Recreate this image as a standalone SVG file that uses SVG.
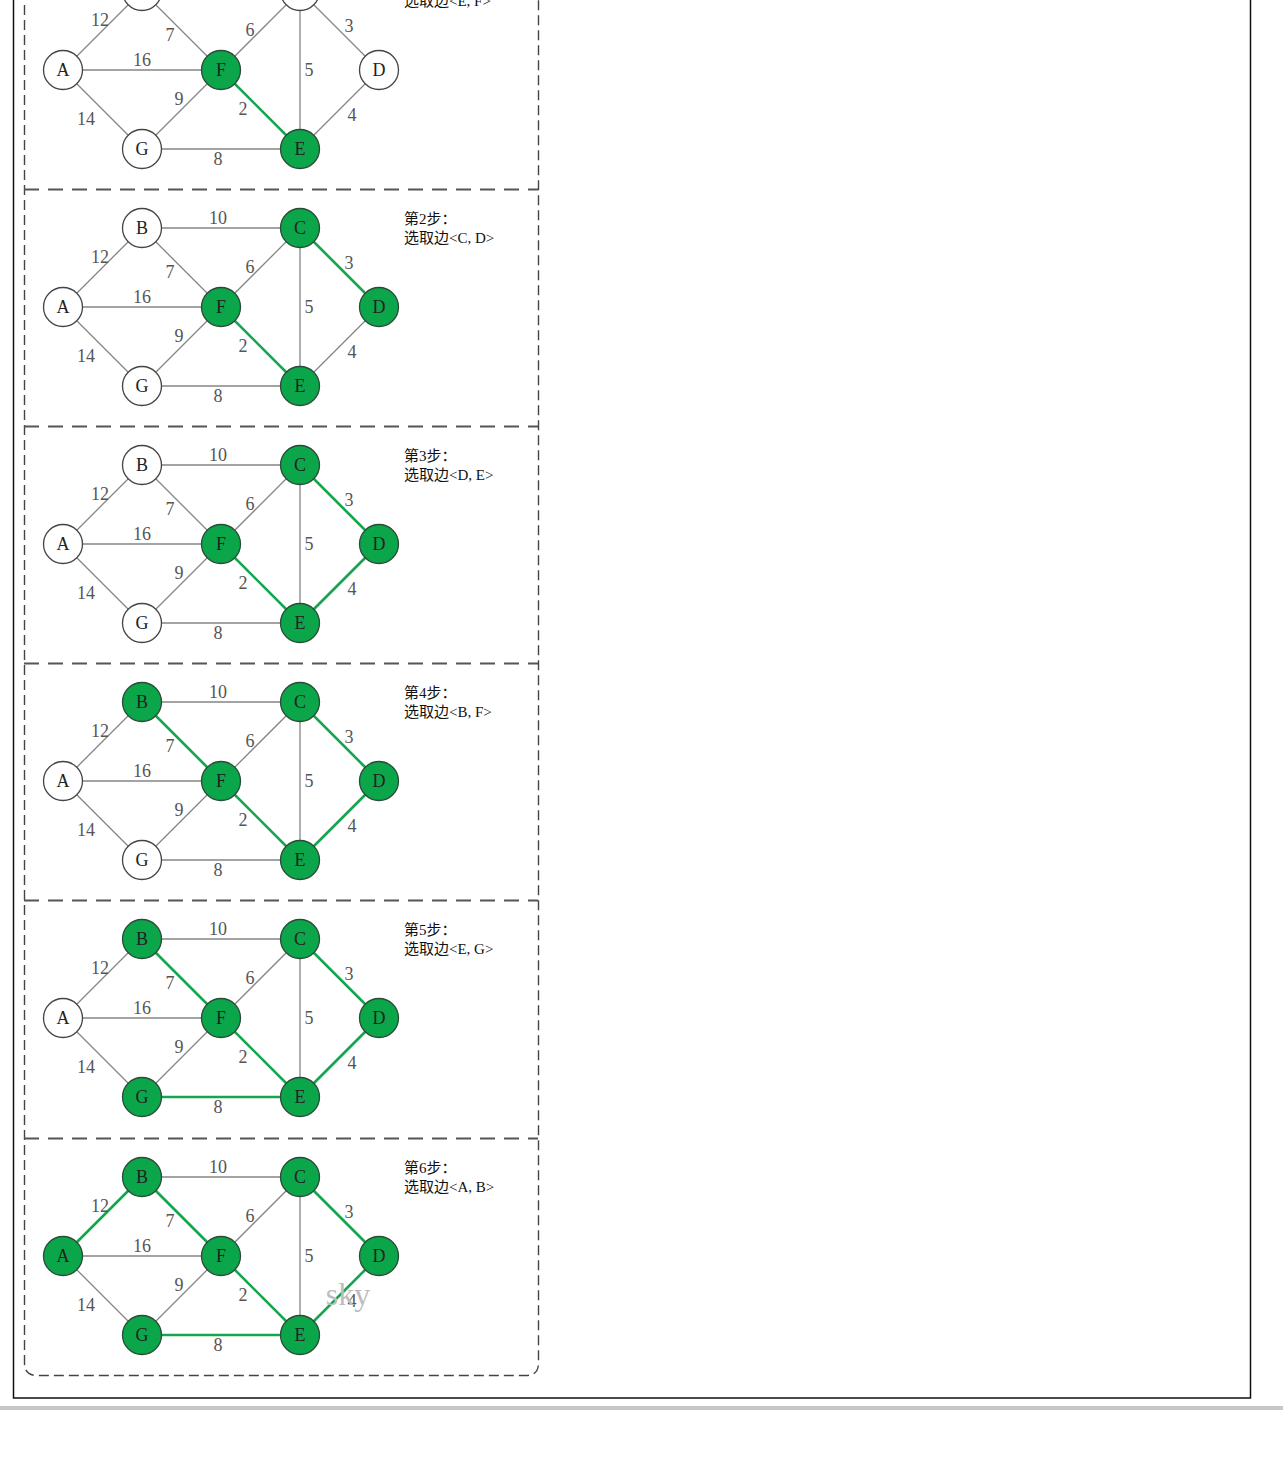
<svg xmlns="http://www.w3.org/2000/svg" width="1283" height="1457" viewBox="0 0 1283 1457">
<style>
.bg{fill:#ffffff}
.frame{fill:none;stroke:#111;stroke-width:1.5}
.bar{fill:#c8c8c8}
.border{fill:none;stroke:#444;stroke-width:1.4;stroke-dasharray:10 5}
.sep{fill:none;stroke:#555;stroke-width:1.8;stroke-dasharray:15 9}
.e{stroke:#858585;stroke-width:1.3;fill:none}
.g{stroke:#14a64f;stroke-width:2.6;fill:none}
.n circle{fill:#fff;stroke:#444;stroke-width:1.3}
.n.on circle{fill:#0ca64a;stroke:#2c4a38}
.n text{font-family:"Liberation Serif",serif;font-size:18px;fill:#222;text-anchor:middle}
.w{font-family:"Liberation Serif",serif;font-size:18px;fill:#555;text-anchor:middle}
.cap{font-family:"Liberation Serif","Noto Sans CJK SC",serif;font-size:15px;fill:#111}
.wm{font-family:"Liberation Serif",serif;font-size:32px;fill:#bdbdbd;text-anchor:middle}
</style>
<rect class="bg" x="0" y="0" width="1283" height="1457"/>
<rect class="frame" x="13.5" y="-10" width="1237" height="1408"/>
<rect class="bar" x="0" y="1406" width="1283" height="4"/>
<g id="panel-frame">
<path class="border" d="M24.5,-10 V1363 Q24.5,1375.5 37,1375.5 H526 Q538.5,1375.5 538.5,1363 V-10"/>
<line class="sep" x1="24" y1="189.5" x2="538" y2="189.5"/>
<line class="sep" x1="24" y1="426.5" x2="538" y2="426.5"/>
<line class="sep" x1="24" y1="663.5" x2="538" y2="663.5"/>
<line class="sep" x1="24" y1="900.5" x2="538" y2="900.5"/>
<line class="sep" x1="24" y1="1138.5" x2="538" y2="1138.5"/>
</g>

<!-- Step 1 -->
<g id="step1" transform="translate(0,0)">
<g id="connectors-1">
<line class="e" x1="63" y1="70" x2="142" y2="-9"/>
<line class="e" x1="63" y1="70" x2="221" y2="70"/>
<line class="e" x1="63" y1="70" x2="142" y2="149"/>
<line class="e" x1="142" y1="-9" x2="300" y2="-9"/>
<line class="e" x1="142" y1="-9" x2="221" y2="70"/>
<line class="e" x1="221" y1="70" x2="300" y2="-9"/>
<line class="e" x1="142" y1="149" x2="221" y2="70"/>
<line class="e" x1="142" y1="149" x2="300" y2="149"/>
<line class="e" x1="300" y1="-9" x2="300" y2="149"/>
<line class="e" x1="300" y1="-9" x2="379" y2="70"/>
<line class="e" x1="379" y1="70" x2="300" y2="149"/>
<line class="g" x1="221" y1="70" x2="300" y2="149"/>
<text class="w" x="100" y="26">12</text><text class="w" x="170" y="41">7</text><text class="w" x="250" y="36">6</text><text class="w" x="349" y="32">3</text><text class="w" x="142" y="66">16</text><text class="w" x="309" y="76">5</text><text class="w" x="179" y="105">9</text><text class="w" x="243" y="115">2</text><text class="w" x="86" y="125">14</text><text class="w" x="352" y="121">4</text><text class="w" x="218" y="165">8</text>
</g>
<g id="s1-A" class="n"><circle cx="63" cy="70" r="19.5"/><text x="63" y="76">A</text></g>
<g id="s1-B" class="n"><circle cx="142" cy="-9" r="19.5"/></g>
<g id="s1-C" class="n"><circle cx="300" cy="-9" r="19.5"/></g>
<g id="s1-D" class="n"><circle cx="379" cy="70" r="19.5"/><text x="379" y="76">D</text></g>
<g id="s1-E" class="n on"><circle cx="300" cy="149" r="19.5"/><text x="300" y="155">E</text></g>
<g id="s1-F" class="n on"><circle cx="221" cy="70" r="19.5"/><text x="221" y="76">F</text></g>
<g id="s1-G" class="n"><circle cx="142" cy="149" r="19.5"/><text x="142" y="155">G</text></g>
<text class="cap" x="404" y="6">选取边&lt;E, F&gt;</text>
</g>

<!-- Step 2 -->
<g id="step2" transform="translate(0,237)">
<g id="connectors-2">
<line class="e" x1="63" y1="70" x2="142" y2="-9"/>
<line class="e" x1="63" y1="70" x2="221" y2="70"/>
<line class="e" x1="63" y1="70" x2="142" y2="149"/>
<line class="e" x1="142" y1="-9" x2="300" y2="-9"/>
<line class="e" x1="142" y1="-9" x2="221" y2="70"/>
<line class="e" x1="221" y1="70" x2="300" y2="-9"/>
<line class="e" x1="142" y1="149" x2="221" y2="70"/>
<line class="e" x1="142" y1="149" x2="300" y2="149"/>
<line class="e" x1="300" y1="-9" x2="300" y2="149"/>
<line class="e" x1="379" y1="70" x2="300" y2="149"/>
<line class="g" x1="221" y1="70" x2="300" y2="149"/>
<line class="g" x1="300" y1="-9" x2="379" y2="70"/>
<text class="w" x="218" y="-13">10</text><text class="w" x="100" y="26">12</text><text class="w" x="170" y="41">7</text><text class="w" x="250" y="36">6</text><text class="w" x="349" y="32">3</text><text class="w" x="142" y="66">16</text><text class="w" x="309" y="76">5</text><text class="w" x="179" y="105">9</text><text class="w" x="243" y="115">2</text><text class="w" x="86" y="125">14</text><text class="w" x="352" y="121">4</text><text class="w" x="218" y="165">8</text>
</g>
<g id="s2-A" class="n"><circle cx="63" cy="70" r="19.5"/><text x="63" y="76">A</text></g>
<g id="s2-B" class="n"><circle cx="142" cy="-9" r="19.5"/><text x="142" y="-3">B</text></g>
<g id="s2-C" class="n on"><circle cx="300" cy="-9" r="19.5"/><text x="300" y="-3">C</text></g>
<g id="s2-D" class="n on"><circle cx="379" cy="70" r="19.5"/><text x="379" y="76">D</text></g>
<g id="s2-E" class="n on"><circle cx="300" cy="149" r="19.5"/><text x="300" y="155">E</text></g>
<g id="s2-F" class="n on"><circle cx="221" cy="70" r="19.5"/><text x="221" y="76">F</text></g>
<g id="s2-G" class="n"><circle cx="142" cy="149" r="19.5"/><text x="142" y="155">G</text></g>
<text class="cap" x="404" y="-13">第2步：</text>
<text class="cap" x="404" y="6">选取边&lt;C, D&gt;</text>
</g>

<!-- Step 3 -->
<g id="step3" transform="translate(0,474)">
<g id="connectors-3">
<line class="e" x1="63" y1="70" x2="142" y2="-9"/>
<line class="e" x1="63" y1="70" x2="221" y2="70"/>
<line class="e" x1="63" y1="70" x2="142" y2="149"/>
<line class="e" x1="142" y1="-9" x2="300" y2="-9"/>
<line class="e" x1="142" y1="-9" x2="221" y2="70"/>
<line class="e" x1="221" y1="70" x2="300" y2="-9"/>
<line class="e" x1="142" y1="149" x2="221" y2="70"/>
<line class="e" x1="142" y1="149" x2="300" y2="149"/>
<line class="e" x1="300" y1="-9" x2="300" y2="149"/>
<line class="g" x1="379" y1="70" x2="300" y2="149"/>
<line class="g" x1="221" y1="70" x2="300" y2="149"/>
<line class="g" x1="300" y1="-9" x2="379" y2="70"/>
<text class="w" x="218" y="-13">10</text><text class="w" x="100" y="26">12</text><text class="w" x="170" y="41">7</text><text class="w" x="250" y="36">6</text><text class="w" x="349" y="32">3</text><text class="w" x="142" y="66">16</text><text class="w" x="309" y="76">5</text><text class="w" x="179" y="105">9</text><text class="w" x="243" y="115">2</text><text class="w" x="86" y="125">14</text><text class="w" x="352" y="121">4</text><text class="w" x="218" y="165">8</text>
</g>
<g id="s3-A" class="n"><circle cx="63" cy="70" r="19.5"/><text x="63" y="76">A</text></g>
<g id="s3-B" class="n"><circle cx="142" cy="-9" r="19.5"/><text x="142" y="-3">B</text></g>
<g id="s3-C" class="n on"><circle cx="300" cy="-9" r="19.5"/><text x="300" y="-3">C</text></g>
<g id="s3-D" class="n on"><circle cx="379" cy="70" r="19.5"/><text x="379" y="76">D</text></g>
<g id="s3-E" class="n on"><circle cx="300" cy="149" r="19.5"/><text x="300" y="155">E</text></g>
<g id="s3-F" class="n on"><circle cx="221" cy="70" r="19.5"/><text x="221" y="76">F</text></g>
<g id="s3-G" class="n"><circle cx="142" cy="149" r="19.5"/><text x="142" y="155">G</text></g>
<text class="cap" x="404" y="-13">第3步：</text>
<text class="cap" x="404" y="6">选取边&lt;D, E&gt;</text>
</g>

<!-- Step 4 -->
<g id="step4" transform="translate(0,711)">
<g id="connectors-4">
<line class="e" x1="63" y1="70" x2="142" y2="-9"/>
<line class="e" x1="63" y1="70" x2="221" y2="70"/>
<line class="e" x1="63" y1="70" x2="142" y2="149"/>
<line class="e" x1="142" y1="-9" x2="300" y2="-9"/>
<line class="e" x1="221" y1="70" x2="300" y2="-9"/>
<line class="e" x1="142" y1="149" x2="221" y2="70"/>
<line class="e" x1="142" y1="149" x2="300" y2="149"/>
<line class="e" x1="300" y1="-9" x2="300" y2="149"/>
<line class="g" x1="142" y1="-9" x2="221" y2="70"/>
<line class="g" x1="379" y1="70" x2="300" y2="149"/>
<line class="g" x1="221" y1="70" x2="300" y2="149"/>
<line class="g" x1="300" y1="-9" x2="379" y2="70"/>
<text class="w" x="218" y="-13">10</text><text class="w" x="100" y="26">12</text><text class="w" x="170" y="41">7</text><text class="w" x="250" y="36">6</text><text class="w" x="349" y="32">3</text><text class="w" x="142" y="66">16</text><text class="w" x="309" y="76">5</text><text class="w" x="179" y="105">9</text><text class="w" x="243" y="115">2</text><text class="w" x="86" y="125">14</text><text class="w" x="352" y="121">4</text><text class="w" x="218" y="165">8</text>
</g>
<g id="s4-A" class="n"><circle cx="63" cy="70" r="19.5"/><text x="63" y="76">A</text></g>
<g id="s4-B" class="n on"><circle cx="142" cy="-9" r="19.5"/><text x="142" y="-3">B</text></g>
<g id="s4-C" class="n on"><circle cx="300" cy="-9" r="19.5"/><text x="300" y="-3">C</text></g>
<g id="s4-D" class="n on"><circle cx="379" cy="70" r="19.5"/><text x="379" y="76">D</text></g>
<g id="s4-E" class="n on"><circle cx="300" cy="149" r="19.5"/><text x="300" y="155">E</text></g>
<g id="s4-F" class="n on"><circle cx="221" cy="70" r="19.5"/><text x="221" y="76">F</text></g>
<g id="s4-G" class="n"><circle cx="142" cy="149" r="19.5"/><text x="142" y="155">G</text></g>
<text class="cap" x="404" y="-13">第4步：</text>
<text class="cap" x="404" y="6">选取边&lt;B, F&gt;</text>
</g>

<!-- Step 5 -->
<g id="step5" transform="translate(0,948)">
<g id="connectors-5">
<line class="e" x1="63" y1="70" x2="142" y2="-9"/>
<line class="e" x1="63" y1="70" x2="221" y2="70"/>
<line class="e" x1="63" y1="70" x2="142" y2="149"/>
<line class="e" x1="142" y1="-9" x2="300" y2="-9"/>
<line class="e" x1="221" y1="70" x2="300" y2="-9"/>
<line class="e" x1="142" y1="149" x2="221" y2="70"/>
<line class="e" x1="300" y1="-9" x2="300" y2="149"/>
<line class="g" x1="142" y1="149" x2="300" y2="149"/>
<line class="g" x1="142" y1="-9" x2="221" y2="70"/>
<line class="g" x1="379" y1="70" x2="300" y2="149"/>
<line class="g" x1="221" y1="70" x2="300" y2="149"/>
<line class="g" x1="300" y1="-9" x2="379" y2="70"/>
<text class="w" x="218" y="-13">10</text><text class="w" x="100" y="26">12</text><text class="w" x="170" y="41">7</text><text class="w" x="250" y="36">6</text><text class="w" x="349" y="32">3</text><text class="w" x="142" y="66">16</text><text class="w" x="309" y="76">5</text><text class="w" x="179" y="105">9</text><text class="w" x="243" y="115">2</text><text class="w" x="86" y="125">14</text><text class="w" x="352" y="121">4</text><text class="w" x="218" y="165">8</text>
</g>
<g id="s5-A" class="n"><circle cx="63" cy="70" r="19.5"/><text x="63" y="76">A</text></g>
<g id="s5-B" class="n on"><circle cx="142" cy="-9" r="19.5"/><text x="142" y="-3">B</text></g>
<g id="s5-C" class="n on"><circle cx="300" cy="-9" r="19.5"/><text x="300" y="-3">C</text></g>
<g id="s5-D" class="n on"><circle cx="379" cy="70" r="19.5"/><text x="379" y="76">D</text></g>
<g id="s5-E" class="n on"><circle cx="300" cy="149" r="19.5"/><text x="300" y="155">E</text></g>
<g id="s5-F" class="n on"><circle cx="221" cy="70" r="19.5"/><text x="221" y="76">F</text></g>
<g id="s5-G" class="n on"><circle cx="142" cy="149" r="19.5"/><text x="142" y="155">G</text></g>
<text class="cap" x="404" y="-13">第5步：</text>
<text class="cap" x="404" y="6">选取边&lt;E, G&gt;</text>
</g>

<!-- Step 6 -->
<g id="step6" transform="translate(0,1186)">
<g id="connectors-6">
<line class="e" x1="63" y1="70" x2="221" y2="70"/>
<line class="e" x1="63" y1="70" x2="142" y2="149"/>
<line class="e" x1="142" y1="-9" x2="300" y2="-9"/>
<line class="e" x1="221" y1="70" x2="300" y2="-9"/>
<line class="e" x1="142" y1="149" x2="221" y2="70"/>
<line class="e" x1="300" y1="-9" x2="300" y2="149"/>
<line class="g" x1="63" y1="70" x2="142" y2="-9"/>
<line class="g" x1="142" y1="149" x2="300" y2="149"/>
<line class="g" x1="142" y1="-9" x2="221" y2="70"/>
<line class="g" x1="379" y1="70" x2="300" y2="149"/>
<line class="g" x1="221" y1="70" x2="300" y2="149"/>
<line class="g" x1="300" y1="-9" x2="379" y2="70"/>
<text class="w" x="218" y="-13">10</text><text class="w" x="100" y="26">12</text><text class="w" x="170" y="41">7</text><text class="w" x="250" y="36">6</text><text class="w" x="349" y="32">3</text><text class="w" x="142" y="66">16</text><text class="w" x="309" y="76">5</text><text class="w" x="179" y="105">9</text><text class="w" x="243" y="115">2</text><text class="w" x="86" y="125">14</text><text class="w" x="352" y="121">4</text><text class="w" x="218" y="165">8</text>
</g>
<g id="s6-A" class="n on"><circle cx="63" cy="70" r="19.5"/><text x="63" y="76">A</text></g>
<g id="s6-B" class="n on"><circle cx="142" cy="-9" r="19.5"/><text x="142" y="-3">B</text></g>
<g id="s6-C" class="n on"><circle cx="300" cy="-9" r="19.5"/><text x="300" y="-3">C</text></g>
<g id="s6-D" class="n on"><circle cx="379" cy="70" r="19.5"/><text x="379" y="76">D</text></g>
<g id="s6-E" class="n on"><circle cx="300" cy="149" r="19.5"/><text x="300" y="155">E</text></g>
<g id="s6-F" class="n on"><circle cx="221" cy="70" r="19.5"/><text x="221" y="76">F</text></g>
<g id="s6-G" class="n on"><circle cx="142" cy="149" r="19.5"/><text x="142" y="155">G</text></g>
<text class="cap" x="404" y="-13">第6步：</text>
<text class="cap" x="404" y="6">选取边&lt;A, B&gt;</text>
<text class="wm" x="348" y="119">sky</text>
</g>
</svg>
